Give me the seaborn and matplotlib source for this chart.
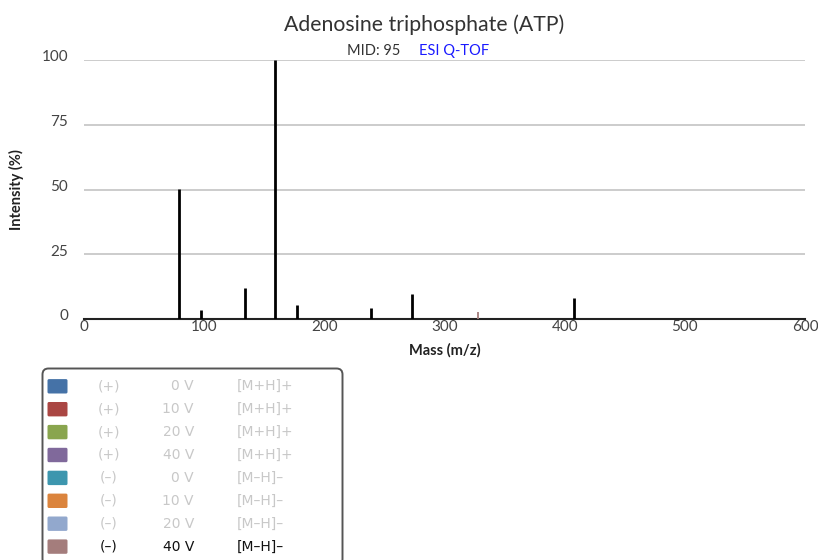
import matplotlib
matplotlib.use("Agg")
import matplotlib.pyplot as plt
import seaborn as sns
import pandas as pd
from matplotlib.patches import FancyBboxPatch
from matplotlib.transforms import ScaledTranslation

# Spectrum peaks (m/z, relative intensity %)
peak_mz = [79, 97, 134, 159, 177, 239, 273, 408, 328]
peak_intensity = [50.1, 3.3, 11.8, 100, 5.5, 4.3, 9.5, 8.0, 2.7]
peak_series = ["ref"] * 8 + ["(–) 40 V"]

# Legend entries
legend_mode = ["(+)"] * 4 + ["(–)"] * 4
legend_voltage = ["0 V", "10 V", "20 V", "40 V"] * 2
legend_adduct = ["[M+H]+"] * 4 + ["[M–H]–"] * 4
legend_colors = ["#4572A7", "#AA4643", "#89A54E", "#80699B",
                 "#3D96AE", "#DB843D", "#92A8CD", "#A47D7C"]
legend_active = [False] * 7 + [True]

x_ticks = [0, 100, 200, 300, 400, 500, 600]
y_ticks = [0, 25, 50, 75, 100]

sns.set_theme(style="white")
narrow = ["Lato", "DejaVu Sans"]
plt.rcParams["font.family"] = ["DejaVu Sans"]

W, H = 818, 560
fig = plt.figure(figsize=(W / 100, H / 100), dpi=100)
ax = fig.add_axes([84 / W, 1 - 319 / H, (805 - 84) / W, (319 - 60) / H])

df = pd.DataFrame({"mz": peak_mz, "intensity": peak_intensity, "series": peak_series})
series_style = {"ref": ("black", 2.0), "(–) 40 V": ("#A47D7C", 1.3)}
for name, grp in df.groupby("series"):
    color, lw = series_style[name]
    ax.vlines(grp["mz"], 0, grp["intensity"], colors=color, linewidth=lw, zorder=3)

ax.set_xlim(0, 600)
ax.set_ylim(0, 100)
ax.set_xticks(x_ticks)
ax.set_yticks(y_ticks)
ax.set_xticklabels([str(t) for t in x_ticks], family=narrow, fontsize=11, color="#444444")
ax.set_yticklabels([str(t) for t in y_ticks], family=narrow, fontsize=11, color="#444444")
ax.grid(axis="y", color="#C8C8C8", linewidth=1.3)
ax.grid(axis="x", visible=False)
sns.despine(ax=ax, left=True, top=True, right=True)
ax.spines["bottom"].set_color("#222222")
ax.spines["bottom"].set_linewidth(1.5)
ax.tick_params(axis="x", length=5, width=1.0, color="#444444", pad=-4, direction="out")
ax.tick_params(axis="y", length=0, pad=11.5)
for lab in ax.get_yticklabels():
    lab.set_transform(lab.get_transform() + ScaledTranslation(0, 3 / 72, fig.dpi_scale_trans))

ax.set_xlabel("Mass (m/z)", family=narrow, fontsize=10.5, fontweight="bold", color="#222222", labelpad=6)
ax.set_ylabel("Intensity (%)", family=narrow, fontsize=10.5, fontweight="bold", color="#222222")
ax.yaxis.set_label_coords((24 - 84) / (805 - 84), 0.5)

fig.text(424 / W, 1 - 25 / H, "Adenosine triphosphate (ATP)", family=narrow,
         fontsize=15.3, color="#333333", ha="center", va="center")
fig.text(400 / W, 1 - 51 / H, "MID: 95", family=narrow, fontsize=10.5,
         color="#333333", ha="right", va="center")
fig.text(419 / W, 1 - 51 / H, "ESI Q-TOF", family=narrow, fontsize=10.5,
         color="#1a1aff", ha="left", va="center")

# Legend panel drawn in inch coordinates
inch = fig.dpi_scale_trans
box = FancyBboxPatch((42.5 / 100, -0.05), 3.0, (560 - 368.5) / 100 + 0.05,
                     boxstyle="round,pad=0,rounding_size=0.06", transform=inch,
                     facecolor="white", edgecolor="#555555", linewidth=1.4)
fig.patches.append(box)
for i in range(len(legend_mode)):
    yc = (560 - (386.3 + 22.9 * i)) / 100
    sw = FancyBboxPatch((47.5 / 100, yc - 0.072), 0.20, 0.144,
                        boxstyle="round,pad=0,rounding_size=0.015", transform=inch,
                        facecolor=legend_colors[i], edgecolor="none")
    fig.patches.append(sw)
    tc = "#111111" if legend_active[i] else "#C8C8C8"
    fig.text(1.09, yc, legend_mode[i], transform=inch, fontsize=10, color=tc, ha="center", va="center")
    fig.text(1.94, yc, legend_voltage[i], transform=inch, fontsize=10, color=tc, ha="right", va="center")
    fig.text(2.365, yc, legend_adduct[i], transform=inch, fontsize=10, color=tc, ha="left", va="center")

fig.savefig("out.png", dpi=100)
